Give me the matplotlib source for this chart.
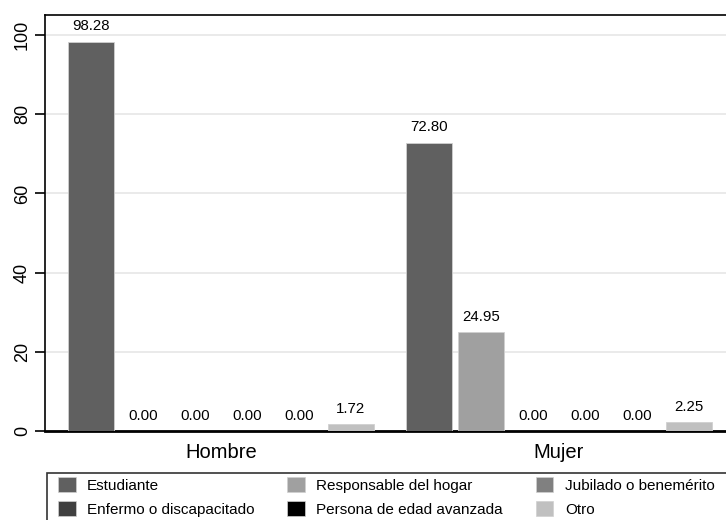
import matplotlib
matplotlib.use("Agg")
import matplotlib.pyplot as plt
from matplotlib.patches import Patch, Rectangle
import numpy as np

plt.rcParams['font.family'] = ['Liberation Sans', 'DejaVu Sans']

grupos = ['Hombre', 'Mujer']
categorias = ['Estudiante', 'Responsable del hogar', 'Jubilado o benemérito',
              'Enfermo o discapacitado', 'Persona de edad avanzada', 'Otro']
colores = ['#606060', '#a0a0a0', '#808080', '#404040', '#000000', '#c0c0c0']
hombre = [98.28, 0.00, 0.00, 0.00, 0.00, 1.72]
mujer = [72.80, 24.95, 0.00, 0.00, 0.00, 2.25]
valores = [hombre, mujer]

fig = plt.figure(figsize=(7.26, 5.2), dpi=100)
W, H = 726, 520
ax = fig.add_axes([45 / W, (H - 431) / H, (735 - 45) / W, (431 - 15) / H])

ancho = 0.885
sep = 6.51
for g, vals in enumerate(valores):
    xs = np.arange(len(categorias)) + g * sep
    for i, (x, v) in enumerate(zip(xs, vals)):
        ax.bar(x, v, width=ancho, color=colores[i], edgecolor='#d0d0d0',
               linewidth=0.6, zorder=3)
        ax.annotate(f'{v:.2f}', (x, v), xytext=(0, 6), textcoords='offset points',
                    ha='center', va='bottom', fontsize=10.8)
    ax.text(xs.mean(), -3.0, grupos[g], ha='center', va='top', fontsize=14.5)

ax.set_xlim(-0.894, 5 + sep + 0.894)
ax.set_ylim(0, 105.05)
ax.set_xticks([])
ax.set_yticks([0, 20, 40, 60, 80, 100])
ax.set_yticklabels(['0', '20', '40', '60', '80', '100'], rotation=90, va='center',
                   fontsize=13)
ax.tick_params(axis='y', length=7, width=1.2, pad=3)
ax.yaxis.grid(True, color='#e6e6e6', linewidth=1.2, zorder=0)
ax.set_axisbelow(True)
for s in ax.spines.values():
    s.set_linewidth(1.2)
ax.spines['bottom'].set_linewidth(2)

# marco de la leyenda (se corta en el borde derecho e inferior)
fig.patches.append(Rectangle((47 / W, -0.05), 0.99, (H - 473) / H + 0.05,
                             transform=fig.transFigure, fill=False,
                             edgecolor='#333333', linewidth=1.2))

orden = [0, 3, 1, 4, 2, 5]
handles = [Patch(facecolor=colores[i], edgecolor='#d0d0d0', linewidth=0.5) for i in orden]
labels = [categorias[i] for i in orden]
leg = fig.legend(handles, labels, ncol=3, loc='upper left',
                 bbox_to_anchor=(58 / W, (H - 477) / H),
                 fontsize=11, frameon=False,
                 handlelength=1.15, handleheight=1.15,
                 handletextpad=0.75, columnspacing=2.15, labelspacing=0.55,
                 borderpad=0, borderaxespad=0)

fig.savefig('out.png', dpi=100)
